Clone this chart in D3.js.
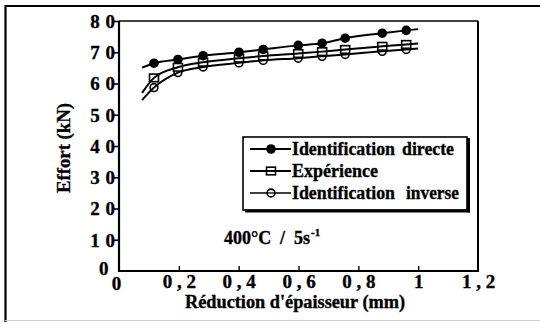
<!DOCTYPE html>
<html><head><meta charset="utf-8">
<script src="https://cdn.jsdelivr.net/npm/d3@7"></script>
<style>
html,body{margin:0;padding:0;background:#fff}
svg{display:block;background:#fff}
text{font-family:"Liberation Serif","Times New Roman",serif;font-weight:bold;fill:#000;stroke:#000;stroke-width:0.35px}
</style>
</head><body>
<svg id="chart" width="540" height="322"></svg>
<script>
// Thickness reduction (mm) at which forces were recorded
const reduction = [0.117, 0.197, 0.281, 0.401, 0.482, 0.599, 0.679, 0.756, 0.880, 0.960];
// Force (kN) at each marker
const idDirecte  = [66.5, 67.7, 68.9, 70.0, 70.9, 72.2, 72.9, 74.5, 76.1, 77.0];
const experience = [61.8, 65.2, 66.8, 68.1, 68.8, 69.6, 70.2, 70.9, 71.9, 72.5];
const idInverse  = [58.7, 63.5, 65.3, 66.6, 67.4, 68.1, 68.7, 69.3, 70.3, 70.9];
// Smoothed curves, from just before the first marker to 1 mm
const curveReduction  = [0.077, 0.117, 0.197, 0.281, 0.401, 0.482, 0.599, 0.679, 0.756, 0.880, 0.960, 1.0];
const curveDirecte    = [65.1, 66.5, 67.7, 68.9, 70.0, 70.9, 72.2, 72.9, 74.5, 76.1, 77.0, 77.4];
const curveExperience = [57.0, 61.8, 65.2, 66.8, 68.1, 68.8, 69.6, 70.2, 70.9, 71.9, 72.5, 72.8];
const curveInverse    = [54.7, 58.7, 63.5, 65.3, 66.6, 67.4, 68.1, 68.7, 69.3, 70.3, 70.9, 71.2];

const seriesNames = ["Identification directe", "Expérience", "Identification inverse"];
const xTicks = [0, 0.2, 0.4, 0.6, 0.8, 1, 1.2];
const xTickLabels = ["0", "0 , 2", "0 , 4", "0 , 6", "0 , 8", "1", "1 , 2"];
const yTicks = [0, 10, 20, 30, 40, 50, 60, 70, 80];
const yTickLabels = ["0", "1 0", "2 0", "3 0", "4 0", "5 0", "6 0", "7 0", "8 0"];
const xTitle = "Réduction d'épaisseur (mm)";
const yTitle = "Effort (kN)";
const conditionParts = ["400°C", "/", "5s", "-1"];

const svg = d3.select("#chart");
const x = d3.scaleLinear().domain([0, 1.2]).range([119, 478]);
const y = d3.scaleLinear().domain([0, 80]).range([271, 21]);

// outer page frame
svg.append("line").attr("x1", 5.5).attr("x2", 5.5).attr("y1", 5).attr("y2", 322)
  .attr("stroke", "#000").attr("stroke-width", 2.2);
svg.append("line").attr("x1", 5).attr("x2", 540).attr("y1", 6).attr("y2", 6)
  .attr("stroke", "#000").attr("stroke-width", 2);
svg.append("line").attr("x1", 5).attr("x2", 540).attr("y1", 320.5).attr("y2", 320.5)
  .attr("stroke", "#cfcfcf").attr("stroke-width", 1);

// y axis
const yAxis = svg.append("g").attr("transform", `translate(${x(0)},0)`)
  .call(d3.axisLeft(y).tickValues(yTicks).tickSize(5).tickPadding(3)
    .tickFormat((d, i) => yTickLabels[i]));
yAxis.select(".domain").remove();
yAxis.selectAll(".tick line").attr("stroke", "#000").attr("stroke-width", 1.6);
yAxis.selectAll(".tick text")
  .attr("font-family", "Liberation Serif").attr("font-weight", "bold")
  .attr("font-size", 19).attr("letter-spacing", 0.5).attr("dy", "0.34em").attr("x", -3.5);
yAxis.selectAll(".tick").filter(d => d === 0).select("line").remove();
yAxis.selectAll(".tick").filter(d => d === 0).select("text")
  .attr("x", -10).attr("dy", "0.2em");

// x axis, ticks pointing inwards
const xAxis = svg.append("g").attr("transform", `translate(0,${y(0)})`)
  .call(d3.axisBottom(x).tickValues(xTicks).tickSize(-5).tickPadding(0)
    .tickFormat((d, i) => xTickLabels[i]));
xAxis.select(".domain").remove();
xAxis.selectAll(".tick line").attr("stroke", "#000").attr("stroke-width", 1.4);
xAxis.selectAll(".tick").filter(d => d === 0 || d === 1.2).select("line").remove();
xAxis.selectAll(".tick text")
  .attr("font-family", "Liberation Serif").attr("font-weight", "bold")
  .attr("font-size", 19).attr("y", 17).attr("dy", 0);
xAxis.selectAll(".tick").filter(d => d === 0).select("text").attr("x", -3).attr("y", 19);

// plot frame
const fx0 = x(0), fx1 = x(1.2), fy0 = y(80), fy1 = y(0);
svg.append("line").attr("x1", fx0).attr("x2", fx0).attr("y1", fy0).attr("y2", fy1 + 1)
  .attr("stroke", "#000").attr("stroke-width", 2.2);
svg.append("line").attr("x1", fx0).attr("x2", fx1 + 1).attr("y1", fy1).attr("y2", fy1)
  .attr("stroke", "#000").attr("stroke-width", 2.2);
svg.append("line").attr("x1", fx0).attr("x2", fx1).attr("y1", fy0).attr("y2", fy0)
  .attr("stroke", "#000").attr("stroke-width", 1.5);
svg.append("line").attr("x1", fx1).attr("x2", fx1).attr("y1", fy0).attr("y2", fy1)
  .attr("stroke", "#000").attr("stroke-width", 2);

// axis titles
svg.append("text").attr("x", 295).attr("y", 308).attr("text-anchor", "middle")
  .attr("font-size", 18.5).attr("textLength", 220).attr("lengthAdjust", "spacingAndGlyphs")
  .text(xTitle);
svg.append("text").attr("transform", "translate(70,148) rotate(-90)")
  .attr("text-anchor", "middle").attr("font-size", 18.5)
  .attr("textLength", 90).attr("lengthAdjust", "spacingAndGlyphs").text(yTitle);

// test condition: temperature / strain rate
const cond = svg.append("text").attr("y", 244).attr("font-size", 18);
cond.append("tspan").attr("x", 224).text(conditionParts[0]);
cond.append("tspan").attr("x", 280).text(conditionParts[1]);
cond.append("tspan").attr("x", 294).text(conditionParts[2]);
cond.append("tspan").attr("dx", 1).attr("dy", -8).attr("font-size", 11).text(conditionParts[3]);

// series
const series = [
  {name: seriesNames[0], values: idDirecte,  curve: curveDirecte,    marker: "dot"},
  {name: seriesNames[1], values: experience, curve: curveExperience, marker: "square"},
  {name: seriesNames[2], values: idInverse,  curve: curveInverse,    marker: "ring"}
];

function drawMarker(g, kind, cx, cy) {
  if (kind === "dot") {
    g.append("circle").attr("cx", cx).attr("cy", cy).attr("r", 4.8).attr("fill", "#000");
  } else if (kind === "square") {
    g.append("rect").attr("x", cx - 4.5).attr("y", cy - 3.8).attr("width", 9).attr("height", 7.6)
      .attr("fill", "#fff").attr("stroke", "#000").attr("stroke-width", 1.6);
  } else {
    g.append("circle").attr("cx", cx).attr("cy", cy).attr("r", 3.9)
      .attr("fill", "#fff").attr("stroke", "#000").attr("stroke-width", 1.6);
  }
}

const markerLayer = svg.append("g");
series.slice().reverse().forEach(s => {
  s.values.forEach((v, i) => drawMarker(markerLayer, s.marker, x(reduction[i]), y(v)));
});

const line = d3.line().x(d => x(d[0])).y(d => y(d[1])).curve(d3.curveMonotoneX);
series.forEach(s => {
  svg.append("path").datum(curveReduction.map((r, i) => [r, s.curve[i]]))
    .attr("d", line).attr("fill", "none").attr("stroke", "#000").attr("stroke-width", 2);
});

// legend
const lg = svg.append("g");
lg.append("rect").attr("x", 243).attr("y", 137).attr("width", 224).attr("height", 73)
  .attr("fill", "#fff").attr("stroke", "#000").attr("stroke-width", 1.6);
lg.append("line").attr("x1", 468.5).attr("x2", 468.5).attr("y1", 138).attr("y2", 212.5)
  .attr("stroke", "#000").attr("stroke-width", 3);
lg.append("line").attr("x1", 245).attr("x2", 470).attr("y1", 211).attr("y2", 211)
  .attr("stroke", "#000").attr("stroke-width", 3);
const rowY = [149, 171, 193];
// each word of a legend entry: start x and printed width
const wordLayout = [[[292, 103], [402, 52]], [[292, 86]], [[292, 103], [406, 53]]];
const lineW = [2, 2, 1.3];
series.forEach((s, i) => {
  lg.append("line").attr("x1", 250).attr("x2", 291).attr("y1", rowY[i]).attr("y2", rowY[i])
    .attr("stroke", "#000").attr("stroke-width", lineW[i]);
  drawMarker(lg, s.marker, 271, rowY[i]);
  lg.append("line").attr("x1", 266).attr("x2", 276).attr("y1", rowY[i]).attr("y2", rowY[i])
    .attr("stroke", "#000").attr("stroke-width", lineW[i]);
  s.name.split(" ").forEach((w, j) => {
    lg.append("text").attr("x", wordLayout[i][j][0]).attr("y", rowY[i] + 6).attr("font-size", 18.5)
      .attr("textLength", wordLayout[i][j][1]).attr("lengthAdjust", "spacingAndGlyphs").text(w);
  });
});
</script>
</body></html>
